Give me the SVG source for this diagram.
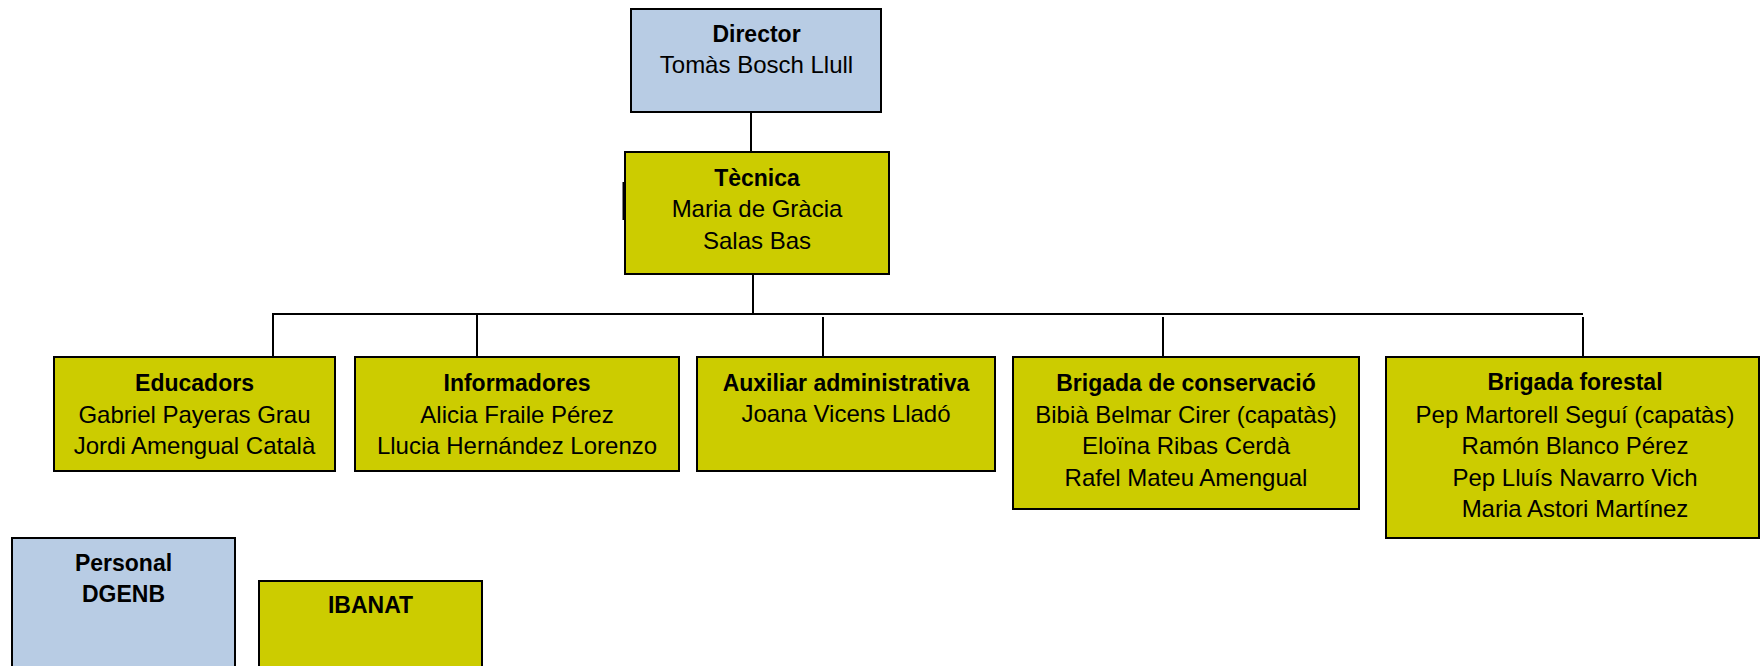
<svg xmlns="http://www.w3.org/2000/svg" width="1760" height="666" viewBox="0 0 1760 666">
<style>
.blue{fill:#B8CCE4;stroke:#000;stroke-width:2}
.olive{fill:#CCCC00;stroke:#000;stroke-width:2}
.c{stroke:#000;stroke-width:2;fill:none}
text{font-family:"Liberation Sans",Arial,sans-serif;fill:#000;text-anchor:middle}
.t{font-weight:bold;font-size:23px}
.n{font-size:24px}
</style>
<rect width="1760" height="666" fill="#fff"/>
<g id="connectors">
<line class="c" x1="751" y1="112" x2="751" y2="152"/>
<line class="c" x1="753" y1="274" x2="753" y2="314"/>
<line class="c" x1="272" y1="314" x2="1583" y2="314"/>
<line class="c" x1="273" y1="313" x2="273" y2="357"/>
<line class="c" x1="477" y1="313" x2="477" y2="357"/>
<line class="c" x1="823" y1="317" x2="823" y2="357"/>
<line class="c" x1="1163" y1="317" x2="1163" y2="357"/>
<line class="c" x1="1583" y1="317" x2="1583" y2="357"/>
</g>
<g id="director">
<rect class="blue" x="631" y="9" width="250" height="103"/>
<text class="t" x="756.5" y="42">Director</text>
<text class="n" x="756.5" y="73">Tomàs Bosch Llull</text>
</g>
<g id="tecnica">
<rect class="olive" x="625" y="152" width="264" height="122"/>
<line class="c" x1="623.5" y1="182" x2="623.5" y2="220"/>
<text class="t" x="757" y="185.5">Tècnica</text>
<text class="n" x="757" y="217">Maria de Gràcia</text>
<text class="n" x="757" y="249">Salas Bas</text>
</g>
<g id="educadors">
<rect class="olive" x="54" y="357" width="281" height="114"/>
<text class="t" x="194.5" y="391">Educadors</text>
<text class="n" x="194.5" y="422.5">Gabriel Payeras Grau</text>
<text class="n" x="194.5" y="454">Jordi Amengual Català</text>
</g>
<g id="informadores">
<rect class="olive" x="355" y="357" width="324" height="114"/>
<text class="t" x="517" y="391">Informadores</text>
<text class="n" x="517" y="422.5">Alicia Fraile Pérez</text>
<text class="n" x="517" y="454">Llucia Hernández Lorenzo</text>
</g>
<g id="auxiliar">
<rect class="olive" x="697" y="357" width="298" height="114"/>
<text class="t" x="846" y="391">Auxiliar administrativa</text>
<text class="n" x="846" y="422">Joana Vicens Lladó</text>
</g>
<g id="conservacio">
<rect class="olive" x="1013" y="357" width="346" height="152"/>
<text class="t" x="1186" y="391">Brigada de conservació</text>
<text class="n" x="1186" y="422.5">Bibià Belmar Cirer (capatàs)</text>
<text class="n" x="1186" y="454">Eloïna Ribas Cerdà</text>
<text class="n" x="1186" y="485.5">Rafel Mateu Amengual</text>
</g>
<g id="forestal">
<rect class="olive" x="1386" y="357" width="373" height="181"/>
<text class="t" x="1575" y="390">Brigada forestal</text>
<text class="n" x="1575" y="422.5">Pep Martorell Seguí (capatàs)</text>
<text class="n" x="1575" y="454">Ramón Blanco Pérez</text>
<text class="n" x="1575" y="485.5">Pep Lluís Navarro Vich</text>
<text class="n" x="1575" y="517">Maria Astori Martínez</text>
</g>
<g id="personal">
<rect class="blue" x="12" y="538" width="223" height="140"/>
<text class="t" x="123.5" y="570.5">Personal</text>
<text class="t" x="123.5" y="602">DGENB</text>
</g>
<g id="ibanat">
<rect class="olive" x="259" y="581" width="223" height="100"/>
<text class="t" x="370.5" y="613">IBANAT</text>
</g>
</svg>
